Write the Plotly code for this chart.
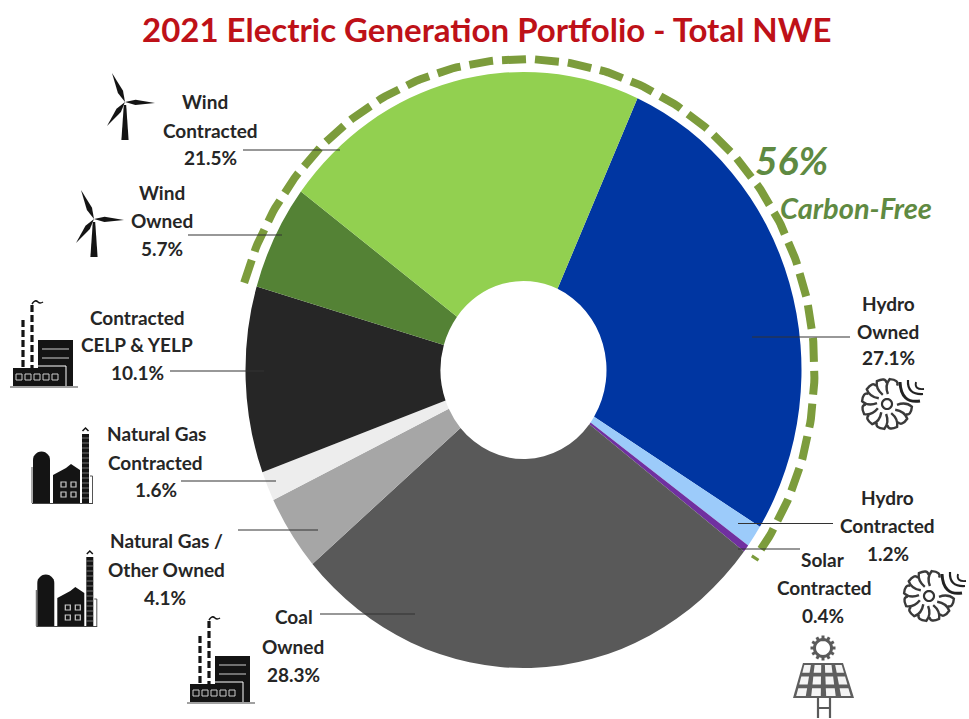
import math
import plotly.graph_objects as go

# Portfolio shares, clockwise from the Hydro Owned slice
categories = ["Hydro Owned", "Hydro Contracted", "Solar Contracted", "Coal Owned",
              "Natural Gas / Other Owned", "Natural Gas Contracted",
              "Contracted CELP & YELP", "Wind Owned", "Wind Contracted"]
shares = [27.1, 1.2, 0.4, 28.3, 4.1, 1.6, 10.1, 5.7, 21.5]
slice_colors = ["#0036A2", "#9CCBFA", "#7030A0", "#595959", "#A6A6A6",
                "#EDEDED", "#262626", "#548235", "#92D050"]
carbon_free = ["Hydro Owned", "Hydro Contracted", "Solar Contracted", "Wind Owned", "Wind Contracted"]

W, H = 969, 719
CX, CY, RX, STRETCH = 523.5, 370.0, 278.0, 1.072
ROTATION = 24.2
INK = "#141414"
LABEL_INK = "#262626"
GREEN = "#7C9C3C"
TEXT_GREEN = "#5F8A42"

# Text block for each slice: centre x and the y of every line
label_lines = [
    (205, 101, "Wind"), (210, 130, "Contracted"), (210, 157, "21.5%"),
    (162, 192, "Wind"), (162, 220, "Owned"), (162, 248, "5.7%"),
    (137, 317, "Contracted"), (137, 344, "CELP & YELP"), (137, 372, "10.1%"),
    (156, 433, "Natural Gas"), (155, 462, "Contracted"), (156, 489, "1.6%"),
    (166, 540, "Natural Gas /"), (166, 569, "Other Owned"), (165, 597, "4.1%"),
    (294, 616, "Coal"), (293, 646, "Owned"), (293, 674, "28.3%"),
    (888, 303, "Hydro"), (888, 331, "Owned"), (888, 357, "27.1%"),
    (887, 497, "Hydro"), (887, 525, "Contracted"), (888, 553, "1.2%"),
    (823, 559, "Solar"), (824, 587, "Contracted"), (823, 615, "0.4%"),
]
# Leader lines: left x, right x, y
leaders = [(243, 340, 150), (188, 282, 235), (170, 264, 371), (181, 276, 481),
           (238, 318, 530), (320, 415, 614), (752, 850, 337), (738, 833, 523.5),
           (738, 800, 549)]


def line_shape(path, color=INK, width=1.5):
    return dict(type="path", path=path, xref="x", yref="y", layer="above",
                fillcolor="rgba(0,0,0,0)", line=dict(color=color, width=width))


def fill_shape(path, color=INK):
    return dict(type="path", path=path, xref="x", yref="y", layer="above",
                fillcolor=color, line=dict(width=0))


def poly(points):
    return "M" + " L".join(f"{x:.1f},{y:.1f}" for x, y in points) + " Z"


def circle_path(x, y, r, n=28):
    return poly([(x + r * math.cos(2 * math.pi * i / n), y + r * math.sin(2 * math.pi * i / n)) for i in range(n)])


def turbine(dx, dy):
    hub = (125 + dx, 102 + dy)
    out = []
    for tip_x, tip_y, bulge in [(112, 73, 2.8), (155, 103, 2.6), (107, 126, 2.8)]:
        tx, ty = tip_x + dx, tip_y + dy
        vx, vy = tx - hub[0], ty - hub[1]
        n = math.hypot(vx, vy)
        px, py = -vy / n * bulge, vx / n * bulge
        mx, my = hub[0] + vx * 0.35, hub[1] + vy * 0.35
        out.append(fill_shape(poly([hub, (mx + px, my + py), (tx, ty), (mx - px, my - py)])))
    base_y = 140 + dy
    out.append(fill_shape(poly([(hub[0] - 1.2, hub[1] + 3), (hub[0] + 1.2, hub[1] + 3),
                                (hub[0] + 3.6, base_y), (hub[0] - 3.6, base_y)])))
    return out


def factory(dx, dy):
    out = [fill_shape(poly([(38 + dx, 340 + dy), (73 + dx, 340 + dy), (73 + dx, 386 + dy), (38 + dx, 386 + dy)])),
           fill_shape(poly([(13 + dx, 368 + dy), (63 + dx, 368 + dy), (63 + dx, 386 + dy), (13 + dx, 386 + dy)])),
           line_shape(f"M{10+dx},{387+dy} L{78+dx},{387+dy}", "#444444", 1.2),
           line_shape(f"M{42+dx},{349+dy} L{69+dx},{349+dy}", "#AFAFAF", 1.2),
           line_shape(f"M{42+dx},{358+dy} L{69+dx},{358+dy}", "#AFAFAF", 1.2),
           line_shape(f"M{38+dx},{366+dy} L{66+dx},{366+dy} L{66+dx},{386+dy}", "#FFFFFF", 1)]
    for i in range(5):
        x = 16 + dx + i * 9
        out.append(line_shape(poly([(x, 374 + dy), (x + 6, 374 + dy), (x + 6, 380 + dy), (x, 380 + dy)]), "#CCCCCC", 1))
    for x, top in [(23, 320), (32, 305)]:
        for y in range(top, 368, 10):
            out.append(line_shape(f"M{x+dx},{y+dy} L{x+dx},{min(y+7, 368)+dy}", INK, 3.2))
    out.append(line_shape(f"M{32+dx},{304+dy} Q{35+dx},{299+dy} {38+dx},{302+dy} Q{40+dx},{304+dy} {43+dx},{302+dy}", INK, 1.5))
    return out


def gas_plant(dx, dy):
    dome = [(41.5 + dx + 8.5 * math.cos(math.pi * i / 14), 460 + dy - 8.5 * math.sin(math.pi * i / 14)) for i in range(15)]
    out = [fill_shape(poly([(50 + dx, 503 + dy)] + dome + [(33 + dx, 503 + dy)])),
           fill_shape(poly([(53 + dx, 503 + dy), (53 + dx, 475 + dy), (66 + dx, 468 + dy), (71 + dx, 464 + dy),
                            (80 + dx, 470 + dy), (80 + dx, 503 + dy)])),
           fill_shape(poly([(82 + dx, 434 + dy), (89 + dx, 434 + dy), (89 + dx, 503 + dy), (82 + dx, 503 + dy)])),
           line_shape(f"M{32+dx},{467+dy} L{32+dx},{503+dy}", "#555555", 1),
           line_shape(f"M{90+dx},{476+dy} L{92.5+dx},{476+dy} L{92.5+dx},{503+dy}", "#555555", 1),
           line_shape(f"M{32+dx},{503.5+dy} L{93+dx},{503.5+dy}", "#444444", 1),
           line_shape(f"M{82.5+dx},{431+dy} L{85.5+dx},{428+dy} L{88.5+dx},{431+dy}", INK, 1.5)]
    for y in range(438, 503, 5):
        out.append(line_shape(f"M{82+dx},{y+dy} L{89+dx},{y+dy}", "#8A8A8A", 0.8))
    for x, y in [(61, 482), (71, 482), (61, 492), (71, 492)]:
        out.append(line_shape(poly([(x + dx, y + dy), (x + 5 + dx, y + dy), (x + 5 + dx, y + 5 + dy), (x + dx, y + 5 + dy)]), "#CCCCCC", 1.2))
    return out


def hydro_rotor(cx, cy):
    out = [line_shape(circle_path(cx, cy, 5), "#333333", 2.2)]

    def pt(r, a):
        return cx + r * math.cos(a), cy + r * math.sin(a)

    # Hooked blades around the hub; the upper right is left to the smaller runner
    for k in range(12):
        if k in (10, 11):
            continue
        a = math.radians(k * 30 + 5)
        p0 = pt(10, a)
        q0 = pt(19, a - 0.22)
        p1 = pt(25, a + 0.02)
        q1 = pt(27, a + 0.38)
        p2 = pt(21, a + 0.42)
        out.append(line_shape(f"M{p0[0]:.1f},{p0[1]:.1f} Q{q0[0]:.1f},{q0[1]:.1f} {p1[0]:.1f},{p1[1]:.1f} "
                              f"Q{q1[0]:.1f},{q1[1]:.1f} {p2[0]:.1f},{p2[1]:.1f}", "#3A3A3A", 2.4))
    for ox0, oy0, qx, qy, ox1, oy1, w in [(13, -22, 14, 0, 33, -3, 3.0), (21, -24, 20, -9, 36, -10, 2.2),
                                          (29, -22, 27, -14, 37, -15, 1.8)]:
        out.append(line_shape(f"M{cx+ox0},{cy+oy0} Q{cx+qx},{cy+qy} {cx+ox1},{cy+oy1}", "#222222", w))
    return out


def solar_panel(sx, sy):
    out = []
    for k in range(12):
        a = math.radians(k * 30)
        out.append(line_shape(f"M{sx+9*math.cos(a):.1f},{sy+9*math.sin(a):.1f} L{sx+12.5*math.cos(a):.1f},{sy+12.5*math.sin(a):.1f}", "#5A5A5A", 3))
    out.append(line_shape(circle_path(sx, sy, 8.5), "#5A5A5A", 3))
    top, bot = sy + 15, sy + 50
    left = lambda t: sx - 20 - 10 * t
    right = lambda t: sx + 20 + 11 * t
    out.append(fill_shape(poly([(left(0), top), (right(0), top), (right(1), bot), (left(1), bot)]), "#5E5E5E"))
    for row in range(3):
        t0, t1 = (row + 0.16) / 3, (row + 0.84) / 3
        for col in range(4):
            g0, g1 = (col + 0.18) / 4, (col + 0.82) / 4
            cell = []
            for t, g in [(t0, g0), (t0, g1), (t1, g1), (t1, g0)]:
                cell.append((left(t) + (right(t) - left(t)) * g, top + (bot - top) * t))
            out.append(fill_shape(poly(cell), "#F4F4F4"))
    out.append(line_shape(f"M{sx-5},{bot} L{sx-5},{bot+20} M{sx+7},{bot} L{sx+7},{bot+20} M{sx-5},{bot+10} L{sx+7},{bot+10}", "#5A5A5A", 2.2))
    return out


fig = go.Figure()

# Dashed band spans exactly the carbon-free slices, running through 12 o'clock
order_cw = list(zip(categories, shares))
wind_share = sum(s for c, s in order_cw if c in carbon_free and c.startswith("Wind"))
other_share = sum(s for c, s in order_cw if c in carbon_free and not c.startswith("Wind"))
a0 = ROTATION - wind_share * 3.6
a1 = ROTATION + other_share * 3.6
steps = 240
arc_x = [CX + 291 * math.sin(math.radians(a0 + (a1 - a0) * i / steps)) for i in range(steps + 1)]
arc_y = [CY - 311 * math.cos(math.radians(a0 + (a1 - a0) * i / steps)) for i in range(steps + 1)]
fig.add_trace(go.Scatter(x=arc_x, y=arc_y, mode="lines", hoverinfo="skip", showlegend=False,
                         line=dict(color=GREEN, width=8, dash="24px,9px")))

fig.add_trace(go.Pie(labels=categories, values=shares, sort=False, direction="clockwise",
                     rotation=ROTATION, hole=83.0 / RX, textinfo="none", showlegend=False,
                     marker=dict(colors=slice_colors, line=dict(width=0)),
                     domain=dict(x=[(CX - RX) / W, (CX + RX) / W],
                                 y=[1 - (CY + RX) / H, 1 - (CY - RX) / H])))

shapes = []
for x0, x1, y in leaders:
    shapes.append(dict(type="line", xref="x", yref="y", x0=x0, x1=x1, y0=y, y1=y, layer="above",
                       line=dict(color="#333333", width=1.1)))
shapes += turbine(0, 0) + turbine(-31, 117)
shapes += factory(0, 0) + factory(177, 316)
shapes += gas_plant(0, 0) + gas_plant(4.3, 123)
shapes += hydro_rotor(887, 404) + hydro_rotor(929, 596)
shapes += solar_panel(823, 648)

annotations = [dict(x=x, y=y, text=t, xref="x", yref="y", showarrow=False, xanchor="center", yanchor="middle",
                    font=dict(family="Lato", size=19, color=LABEL_INK, weight="bold"))
               for x, y, t in label_lines]
annotations += [
    dict(x=486, y=29, text="2021 Electric Generation Portfolio - Total NWE", xref="x", yref="y", showarrow=False,
         font=dict(family="Lato", size=33, color="#BE1118", weight="bold")),
    dict(x=791, y=160, text="<i>56%</i>", xref="x", yref="y", showarrow=False,
         font=dict(family="Lato", size=39, color=TEXT_GREEN, weight="bold")),
    dict(x=856, y=207, text="<i>Carbon-Free</i>", xref="x", yref="y", showarrow=False,
         font=dict(family="Lato", size=29, color=TEXT_GREEN, weight="bold")),
]

fig.update_layout(width=W, height=H, margin=dict(l=0, r=0, t=0, b=0), paper_bgcolor="white", plot_bgcolor="white",
                  showlegend=False, shapes=shapes, annotations=annotations,
                  xaxis=dict(range=[0, W], visible=False, fixedrange=True),
                  yaxis=dict(range=[H, 0], visible=False, fixedrange=True))

# The donut is slightly taller than wide, so the pie layer gets a vertical stretch
stretch_js = (
    "var g=document.querySelector('.pielayer');"
    f"g.setAttribute('transform','translate(0,{CY}) scale(1,{STRETCH}) translate(0,{-CY})');"
)
fig.write_html("out.html", post_script=stretch_js, config=dict(displayModeBar=False))
